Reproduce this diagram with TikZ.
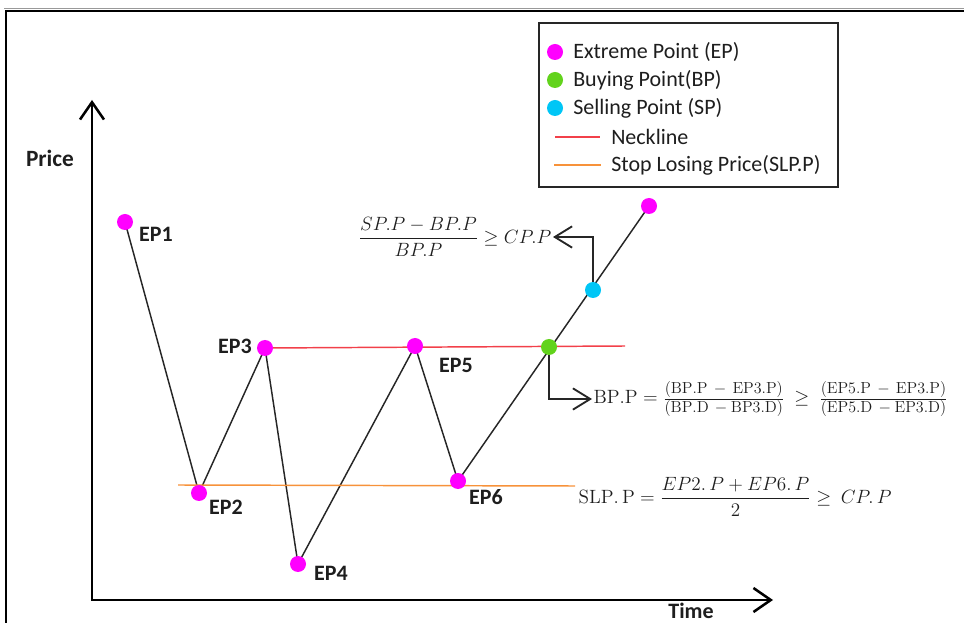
\documentclass[tikz,border=0pt]{standalone}
\usepackage{amsmath,amssymb}
\usepackage[no-math]{fontspec}
\setmainfont{Carlito}
\usepackage{xcolor}
\usepackage{tikz}
\usetikzlibrary{arrows.meta}
\definecolor{epc}{HTML}{FF00FF}
\definecolor{bpc}{HTML}{62D31C}
\definecolor{spc}{HTML}{00C6F6}
\definecolor{neckc}{HTML}{F2404A}
\definecolor{slpc}{HTML}{F7923A}
\definecolor{txt}{HTML}{1E1E1E}
\pgfdeclarelayer{bg}
\pgfsetlayers{bg,main}
\newcommand{\fpart}[1]{\mbox{\fontsize{12}{14}\selectfont$\mathrm{#1}$}}

\begin{document}
\begin{tikzpicture}[x=0.75pt,y=-0.75pt,
    every node/.style={text=txt},
    ptdot/.style={circle,fill=#1,minimum size=12pt,inner sep=0pt},
    eplab/.style={font=\fontsize{16.5}{19}\selectfont\bfseries},
    leg/.style={font=\fontsize{16.5}{19}\selectfont,anchor=west,inner sep=0pt},
    conn/.style={line width=1.1pt,black!85},
    neck/.style={line width=1.1pt,neckc},
    slp/.style={line width=1.1pt,slpc},
    axis/.style={line width=1.9pt,{Straight Barb[length=13pt,width=18pt]}-{Straight Barb[length=13pt,width=18pt]}},
    pointer/.style={line width=1.4pt,black!85,-{Straight Barb[length=13pt,width=16pt]}},
    frm/.style={font=\fontsize{14}{17}\selectfont,inner sep=1pt}]
    \useasboundingbox (0,0) rectangle (964,623);

    % frame
    \draw[black!40,line width=0.6pt] (4,8) -- (964,8);
    \draw[line width=1.5pt] (6,640) -- (6,11) -- (980,11);

    % axes
    \coordinate (ytip) at (92,100);
    \coordinate (orig) at (92,600);
    \coordinate (xtip) at (773,600);
    \draw[axis] (ytip) -- (orig) -- (xtip);
    \node[eplab,font=\fontsize{17.5}{20}\selectfont\bfseries] (price) at (50,158) {Price};
    \node[eplab] (time) at (691,611) {Time};

    % points
    \node[ptdot=epc] (ep1) at (125,222) {};
    \node[ptdot=epc] (ep2) at (199,493) {};
    \node[ptdot=epc] (ep3) at (265,348) {};
    \node[ptdot=epc] (ep4) at (298,564) {};
    \node[ptdot=epc] (ep5) at (415,346) {};
    \node[ptdot=epc] (ep6) at (458,481) {};
    \node[ptdot=bpc] (bp) at (549,347) {};
    \node[ptdot=spc] (sp) at (593,290) {};
    \node[ptdot=epc] (ep7) at (649,206) {};

    \node[eplab] (ep1l) at (156,234) {EP1};
    \node[eplab] (ep2l) at (226,507) {EP2};
    \node[eplab] (ep3l) at (235,346) {EP3};
    \node[eplab] (ep4l) at (331,573) {EP4};
    \node[eplab] (ep5l) at (456,365) {EP5};
    \node[eplab] (ep6l) at (486,497) {EP6};

    % price path, neckline, stop losing price
    \coordinate (nlend) at (625,346);
    \coordinate (slpa) at (178,485);
    \coordinate (slpb) at (575,486);
    \begin{pgfonlayer}{bg}
        \draw[conn] (ep1.center) -- (ep2.center) -- (ep3.center) -- (ep4.center)
            -- (ep5.center) -- (ep6.center) -- (ep7.center);
        \draw[neck] (ep3.center) -- (nlend);
        \draw[slp] (slpa) -- (slpb);
    \end{pgfonlayer}

    % legend
    \node[draw=black!85,line width=1.5pt,minimum width=224pt,minimum height=123pt,inner sep=0pt] (legend) at (688.5,105) {};
    \node[ptdot=epc] (lgep) at (555,52) {};
    \node[leg] (lgept) at (573,52) {Extreme Point (EP)};
    \node[ptdot=bpc] (lgbp) at (555,80) {};
    \node[leg] (lgbpt) at (573,80) {Buying Point(BP)};
    \node[ptdot=spc] (lgsp) at (555,108) {};
    \node[leg] (lgspt) at (573,108) {Selling Point (SP)};
    \coordinate (lgna) at (555,137);
    \coordinate (lgnb) at (600,137);
    \draw[neck] (lgna) -- (lgnb);
    \node[leg] (lgnt) at (611,137) {Neckline};
    \coordinate (lgsa) at (554,165);
    \coordinate (lgsb) at (601,165);
    \draw[slp] (lgsa) -- (lgsb);
    \node[leg] (lgst) at (611,165) {Stop Losing Price(SLP.P)};

    % formulas
    \node[frm,anchor=east] (spf) at (553,237) {$\dfrac{SP.P - BP.P}{BP.P} \geq CP.P$};
    \draw[pointer] (sp.north) |- (spf.east);

    \node[frm,font=\fontsize{15}{18}\selectfont,anchor=west] (bpf) at (592,399) {$\mathrm{BP.P} = \frac{\fpart{(BP.P\,-\,EP3.P)}}{\fpart{(BP.D\,-BP3.D)}}\ \geq\ \frac{\fpart{(EP5.P\,-\,EP3.P)}}{\fpart{(EP5.D\,-EP3.D)}}$};
    \draw[pointer] (bp.south) |- (bpf.west);

    \node[frm,anchor=west] (slpf) at (577,497) {$\mathrm{SLP.\,P} = \dfrac{EP2.\,P + EP6.\,P}{2} \geq\ CP.\,P$};
\end{tikzpicture}
\end{document}
